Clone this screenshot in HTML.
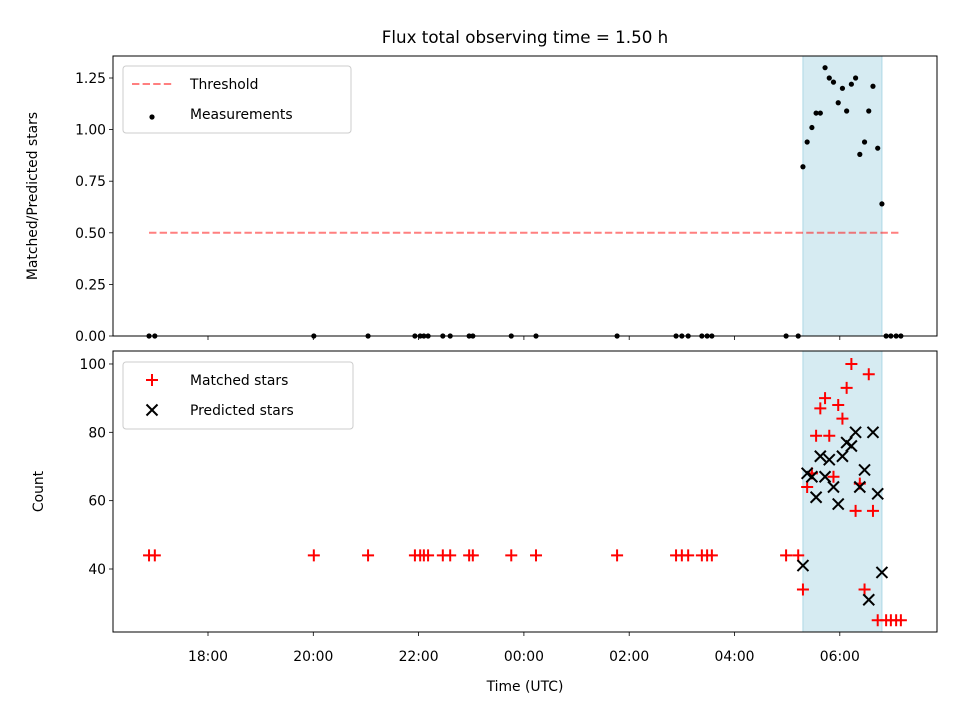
<!DOCTYPE html>
<html><head><meta charset="utf-8"><style>
body{margin:0;background:#fff}
svg text{font-family:"DejaVu Sans","Liberation Sans",sans-serif;fill:#000}
</style></head><body>
<svg id="fig" width="960" height="720" viewBox="0 0 960 720" xmlns="http://www.w3.org/2000/svg">
<rect width="960" height="720" fill="#fff"/>
<text x="525" y="43" font-size="16.7" text-anchor="middle">Flux total observing time = 1.50 h</text>
<g id="topPanel"></g>
<g id="botPanel"></g>
</svg>
<script>
// times in hours since 18:00 UTC
const zeroTimes=[-1.12,-1.01,2.01,3.04,3.93,4.03,4.10,4.18,4.46,4.60,4.96,5.03,5.76,6.23,7.77,8.89,9.00,9.12,9.38,9.48,9.57,10.98,11.21,12.88,12.97,13.07,13.16];
const spanTimes=[11.30,11.38,11.47,11.55,11.63,11.72,11.80,11.88,11.97,12.05,12.13,12.22,12.30,12.38,12.47,12.55,12.63,12.72,12.80];
const ratioValues=[0.82,0.94,1.01,1.08,1.08,1.30,1.25,1.23,1.13,1.20,1.09,1.22,1.25,0.88,0.94,1.09,1.21,0.91,0.64];
const earlyTimes=[-1.12,-1.01,2.01,3.04,3.93,4.03,4.10,4.18,4.46,4.60,4.96,5.03,5.76,6.23,7.77,8.89,9.00,9.12,9.38,9.48,9.57,10.98,11.21];
const earlyMatched=[44,44,44,44,44,44,44,44,44,44,44,44,44,44,44,44,44,44,44,44,44,44,44];
const spanMatched=[34,64,68,79,87,90,79,67,88,84,93,100,57,65,34,97,57,25];
const tailTimes=[12.88,12.97,13.07,13.16];
const tailMatched=[25,25,25,25];
const spanPredicted=[41,68,67,61,73,67,72,64,59,73,77,76,80,64,69,31,80,62,39];
const thresholdValue=0.5, thresholdStart=-1.12, thresholdEnd=13.16;
const shadeStart=11.30, shadeEnd=12.80;
const xTicks=[0,2,4,6,8,10,12];
const xTickLabels=["18:00","20:00","22:00","00:00","02:00","04:00","06:00"];
const topTicks=[0,0.25,0.5,0.75,1.0,1.25];
const botTicks=[40,60,80,100];

const NS="http://www.w3.org/2000/svg";
const L=113,R=937;
const xs=h=>208+52.65*h;
const yTop=v=>336-206.4*v;
const yBot=v=>569-(v-40)*3.417;
function el(p,t,a){const e=document.createElementNS(NS,t);for(const k in a)e.setAttribute(k,a[k]);p.appendChild(e);return e;}
const topG=document.getElementById('topPanel'),botG=document.getElementById('botPanel');

function panel(g,y0,y1,ticks,yf,fmt,label,labelY){
  const s=el(g,'rect',{x:xs(shadeStart),y:y0,width:xs(shadeEnd)-xs(shadeStart),height:y1-y0,fill:'#add8e6','fill-opacity':0.5,stroke:'#add8e6','stroke-width':1});
  
  
  ticks.forEach(v=>{const y=yf(v);
    const t=el(g,'line',{x1:L-4,x2:L,y1:y,y2:y,stroke:'#000','stroke-width':0.8});
    
    
    const tx=el(g,'text',{x:L-7,y:y+5,'font-size':13.9,'text-anchor':'end'});tx.textContent=fmt(v);
    
    
  });
  xTicks.forEach((h,i)=>{const x=xs(h);
    const t=el(g,'line',{x1:x,x2:x,y1:y1,y2:y1+4,stroke:'#000','stroke-width':0.8});
    
    
  });
  const yl=el(g,'text',{x:0,y:0,'font-size':13.9,'text-anchor':'middle',transform:`translate(${labelY},${(y0+y1)/2}) rotate(-90)`});yl.textContent=label;
  
  
}
panel(topG,56,336,topTicks,yTop,v=>v.toFixed(2),'Matched/Predicted stars',37);
panel(botG,351,632,botTicks,yBot,v=>String(v),'Count',43);

// top series
const th=el(topG,'line',{x1:xs(thresholdStart),x2:xs(thresholdEnd),y1:yTop(thresholdValue),y2:yTop(thresholdValue),stroke:'#ff0000','stroke-opacity':0.5,'stroke-width':2,'stroke-dasharray':'7.4,3.2'});


zeroTimes.forEach(h=>{const c=el(topG,'circle',{cx:xs(h),cy:yTop(0),r:2.6,fill:'#000'});
  
  });
spanTimes.forEach((h,i)=>{const c=el(topG,'circle',{cx:xs(h),cy:yTop(ratioValues[i]),r:2.6,fill:'#000'});
  
  });

// bottom series
function plus(x,y){const g=el(botG,'path',{d:`M${x-6},${y}H${x+6}M${x},${y-6}V${y+6}`,stroke:'#ff0000','stroke-width':2});
  
  }
function cross(x,y){const g=el(botG,'path',{d:`M${x-5.5},${y-5.5}L${x+5.5},${y+5.5}M${x-5.5},${y+5.5}L${x+5.5},${y-5.5}`,stroke:'#000','stroke-width':2});
  
  }
earlyTimes.forEach((h,i)=>plus(xs(h),yBot(earlyMatched[i])));
spanMatched.forEach((v,i)=>plus(xs(spanTimes[i]),yBot(v)));
tailTimes.forEach((h,i)=>plus(xs(h),yBot(tailMatched[i])));
spanPredicted.forEach((v,i)=>cross(xs(spanTimes[i]),yBot(v)));

// frames
[[topG,56,336],[botG,351,632]].forEach(([g,a,b])=>{const f=el(g,'rect',{x:L,y:a,width:R-L,height:b-a,fill:'none',stroke:'#000','stroke-width':1});
  
  });
xTicks.forEach((h,i)=>{const t=el(botG,'text',{x:xs(h),y:661,'font-size':13.9,'text-anchor':'middle'});t.textContent=xTickLabels[i];
  
  });
const xl=el(botG,'text',{x:525,y:691,'font-size':13.9,'text-anchor':'middle'});xl.textContent='Time (UTC)';



// legends
function legend(g,y,w,items){
  const b=el(g,'rect',{x:123,y:y,width:w,height:67,rx:3,fill:'#fff','fill-opacity':0.8,stroke:'#ccc','stroke-width':1});
  
  
  items.forEach((it,i)=>{const cy=y+18+i*30;it.draw(152,cy);
    const t=el(g,'text',{x:190,y:cy+5,'font-size':13.9});t.textContent=it.label;
    
    });
}
legend(topG,66,228,[
 {label:'Threshold',draw:(x,y)=>{const l=el(topG,'line',{x1:x-20,x2:x+20,y1:y,y2:y,stroke:'#ff0000','stroke-opacity':0.5,'stroke-width':2,'stroke-dasharray':'7.4,3.2'});
   
   }},
 {label:'Measurements',draw:(x,y)=>{const c=el(topG,'circle',{cx:x,cy:y+3,r:2.6,fill:'#000'});
   
   }}
]);
legend(botG,362,230,[
 {label:'Matched stars',draw:(x,y)=>plus(x,y)},
 {label:'Predicted stars',draw:(x,y)=>cross(x,y)}
]);
</script>
</body></html>
